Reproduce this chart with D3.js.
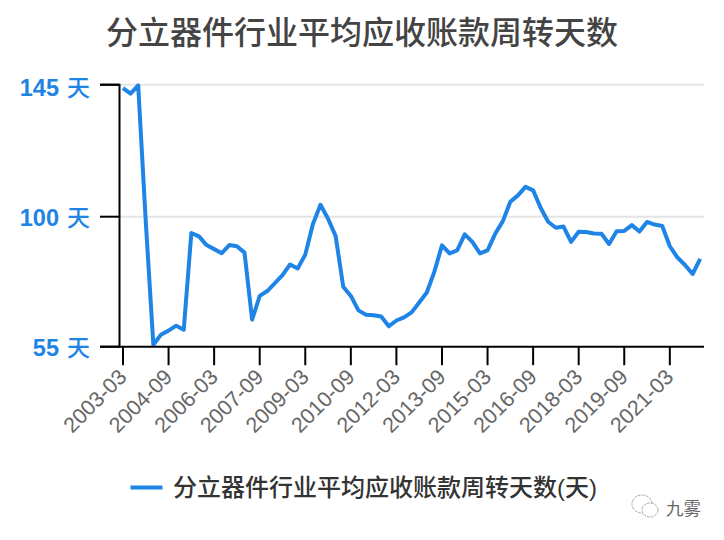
<!DOCTYPE html>
<html>
<head>
<meta charset="utf-8">
<script src="https://cdnjs.cloudflare.com/ajax/libs/d3/7.8.5/d3.min.js"></script>
<style>
  html, body { margin: 0; padding: 0; background: #fff; }
  svg { display: block; }
</style>
</head>
<body>
<script>
const titleText = "分立器件行业平均应收账款周转天数";
const seriesName = "分立器件行业平均应收账款周转天数(天)";
const watermark = "九雾";

const yTicks = [55, 100, 145];
const xLabels = ["2003-03", "2004-09", "2006-03", "2007-09", "2009-03", "2010-09", "2012-03",
  "2013-09", "2015-03", "2016-09", "2018-03", "2019-09", "2021-03"];

// Quarterly values, 2003-03 to 2022-03
const values = [143.7, 141.8, 144.6, 98, 55.5, 59, 60.4, 62.1, 60.7, 94.2,
  93, 90, 88.6, 87.2, 90, 89.6, 87.4, 64.2, 72.4, 74.1,
  76.8, 79.6, 83.3, 81.9, 86.7, 97.2, 103.9, 99.1, 93.1, 75.6,
  72.4, 67.4, 65.9, 65.7, 65.3, 61.9, 63.9, 65, 66.7, 70.1,
  73.6, 80.8, 89.9, 87.1, 88.2, 93.7, 91.1, 87.1, 88.2, 93.9,
  98.2, 104.9, 107.1, 110, 108.8, 102.8, 98, 96, 96.4, 91.1,
  94.6, 94.5, 94, 93.9, 90.4, 94.8, 94.9, 96.9, 94.7, 98,
  97.1, 96.6, 89.6, 85.7, 83.1, 80, 85.2];

// Build the quarter names along the x axis
const quarters = values.map(function(v, i) {
  let year = 2003 + Math.floor(i / 4);
  let month = ["03", "06", "09", "12"][i % 4];
  return year + "-" + month;
});

const width = 724, height = 540;
const blue = "#1e84e6";

const svg = d3.select("body").append("svg")
    .attr("width", width)
    .attr("height", height);

// Two axes
const xScale = d3.scaleBand().domain(quarters).range([119.2, 704]);
const yScale = d3.scaleLinear().domain(yTicks).range([346.2, 216.2, 84.2]);
const xMid = function(q) { return xScale(q) + xScale.bandwidth() / 2; };

// Gridlines
svg.append("g")
  .selectAll("line")
  .data([100, 145])
  .join("line")
    .attr("x1", 119)
    .attr("x2", 704)
    .attr("y1", function(d) { return yScale(d) + 0.5; })
    .attr("y2", function(d) { return yScale(d) + 0.5; })
    .attr("stroke", "#e4e4e4")
    .attr("stroke-width", 2);

// The line
const line = d3.line()
    .x(function(d, i) { return xMid(quarters[i]); })
    .y(function(d) { return yScale(d); });

svg.append("path")
    .datum(values)
    .attr("fill", "none")
    .attr("stroke", blue)
    .attr("stroke-width", 4)
    .attr("stroke-linejoin", "round")
    .attr("d", line);

// Y axis
const yAxis = svg.append("g")
    .attr("transform", "translate(119,0)")
    .call(d3.axisLeft(yScale).tickValues(yTicks).tickSize(19).tickFormat(function(d) { return d; }));
yAxis.select(".domain").attr("stroke", "#000").attr("stroke-width", 2);
yAxis.selectAll(".tick line").attr("stroke", "#000").attr("stroke-width", 2);
yAxis.selectAll(".tick text")
    .attr("x", -29)
    .attr("y", function(d) { return d === 145 ? 3 : 1; })
    .attr("dy", "0.36em")
    .attr("fill", blue)
    .style("font-family", "'Liberation Sans', 'Noto Sans CJK SC', sans-serif")
    .style("font-size", "23.5px")
    .style("font-weight", "bold")
    .text(null)
    .call(function(t) {
      t.append("tspan").text(function(d) { return d; });
      t.append("tspan")
          .attr("dx", 8)
          .style("font-family", "'Noto Sans CJK SC', sans-serif")
          .style("font-size", "23px")
          .style("font-weight", "500")
          .text("天");
    });

// X axis
const xAxis = svg.append("g")
    .attr("transform", "translate(0," + yScale(55) + ")")
    .call(d3.axisBottom(xScale).tickValues(xLabels).tickSize(19).tickSizeOuter(0));
xAxis.select(".domain").attr("stroke", "#000").attr("stroke-width", 2)
    .attr("d", "M119,0.5H704");
xAxis.selectAll(".tick line").attr("stroke", "#000").attr("stroke-width", 2);
xAxis.selectAll(".tick text")
    .attr("y", 0)
    .attr("dy", 0)
    .attr("text-anchor", "end")
    .attr("transform", "translate(5,32) rotate(-45)")
    .attr("fill", "#666")
    .style("font-family", "'Liberation Sans', sans-serif")
    .style("font-size", "21.5px");

// Title
svg.append("text")
    .attr("x", 362)
    .attr("y", 44)
    .attr("text-anchor", "middle")
    .attr("fill", "#444")
    .style("font-family", "'Noto Sans CJK SC', sans-serif")
    .style("font-size", "32px")
    .style("font-weight", "500")
    .text(titleText);

// Legend
svg.append("line")
    .attr("x1", 130.5)
    .attr("x2", 162.5)
    .attr("y1", 487.5)
    .attr("y2", 487.5)
    .attr("stroke", blue)
    .attr("stroke-width", 4);
svg.append("text")
    .attr("x", 173)
    .attr("y", 496)
    .attr("fill", "#333")
    .style("font-family", "'Liberation Sans', 'Noto Sans CJK SC', sans-serif")
    .style("font-size", "24px")
    .style("font-weight", "500")
    .text(seriesName);

// Watermark: chat bubbles and account name
const mark = svg.append("g").attr("fill", "#fff").attr("stroke", "#aaa").attr("stroke-width", 1);
mark.append("ellipse").attr("cx", 642).attr("cy", 504).attr("rx", 10).attr("ry", 9).attr("stroke-dasharray", "3 1");
mark.append("ellipse").attr("cx", 650).attr("cy", 510).attr("rx", 8).attr("ry", 7).attr("stroke-dasharray", "3 1");
svg.append("text")
    .attr("x", 666)
    .attr("y", 515)
    .attr("fill", "#666")
    .style("font-family", "'Noto Sans CJK SC', sans-serif")
    .style("font-size", "17.5px")
    .style("font-weight", "400")
    .text(watermark);
</script>
</body>
</html>
